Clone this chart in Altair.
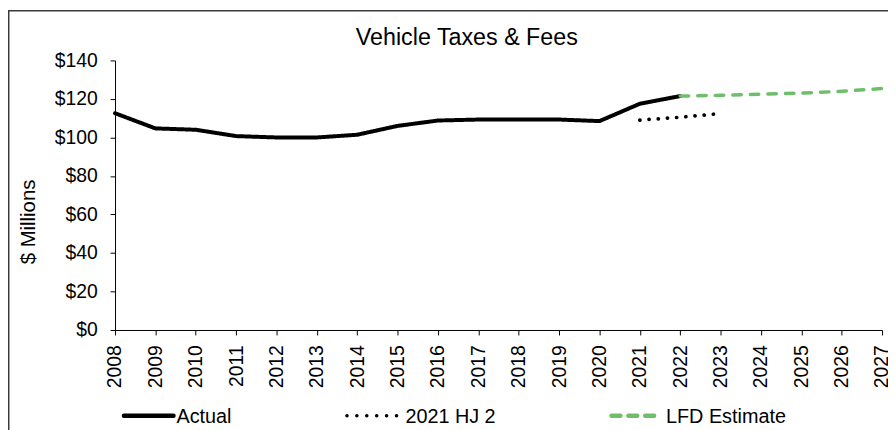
import altair as alt
import pandas as pd

# ---- data ----
years_actual = list(range(2008, 2023))
actual = [112.6, 104.7, 104.0, 100.7, 100.0, 100.0, 101.4, 106.0, 108.8,
          109.3, 109.3, 109.3, 108.5, 117.5, 121.5]
years_hj2 = [2021, 2022, 2023]
hj2 = [109.0, 110.5, 112.4]
years_lfd = [2022, 2023, 2024, 2025, 2026, 2027]
lfd = [121.5, 121.9, 122.5, 123.0, 124.0, 125.4]

series_names = ["Actual", "2021 HJ 2", "LFD Estimate"]
x_ticks = list(range(2008, 2028))
y_ticks = [0, 20, 40, 60, 80, 100, 120, 140]
chart_title = "Vehicle Taxes & Fees"

df = pd.concat([
    pd.DataFrame({"year": years_actual, "value": actual, "series": "Actual"}),
    pd.DataFrame({"year": years_hj2, "value": hj2, "series": "2021 HJ 2"}),
    pd.DataFrame({"year": years_lfd, "value": lfd, "series": "LFD Estimate"}),
], ignore_index=True)

FONT = "Liberation Sans"
GREEN = "#6FBE6B"

lines = alt.Chart(df).mark_line(strokeCap="round", strokeJoin="round").encode(
    x=alt.X("year:Q",
            scale=alt.Scale(domain=[2008, 2027], nice=False, zero=False),
            axis=alt.Axis(values=x_ticks, format="d", labelAngle=270,
                          labelFontSize=19.5, labelColor="black", labelPadding=10,
                          tickSize=5, tickColor="black", domainColor="black",
                          labelFlush=False, labelOverlap=False, grid=False, title=None)),
    y=alt.Y("value:Q",
            scale=alt.Scale(domain=[0, 140], nice=False, zero=True),
            axis=alt.Axis(values=y_ticks, format="$.0f", labelFontSize=19.5,
                          labelColor="black", labelPadding=13, tickSize=5,
                          tickColor="black", domainColor="black", grid=False,
                          title="$ Millions", titleFontSize=20.5,
                          titleFontWeight="normal", titleColor="black",
                          titleAngle=270, titleX=-81, titleY=162.5,
                          titleAlign="center", titleBaseline="alphabetic")),
    color=alt.Color("series:N", scale=alt.Scale(domain=series_names,
                    range=["black", "black", GREEN]), legend=None),
    strokeDash=alt.StrokeDash("series:N", scale=alt.Scale(domain=series_names,
                    range=[[1, 0], [0.1, 9.2], [8.5, 9.2]]), legend=None),
    strokeWidth=alt.StrokeWidth("series:N", scale=alt.Scale(domain=series_names,
                    range=[4, 3.5, 4]), legend=None),
)

# ---- chart title (as a text mark, placed over the chart area) ----
title = alt.Chart(pd.DataFrame({"label": [chart_title]})).mark_text(
    align="center", baseline="alphabetic", fontSize=23.5, font=FONT,
    color="black").encode(text="label:N", x=alt.value(355), y=alt.value(-15.5))

# ---- manual legend (bottom row) ----
LEG_Y = 358.5


def legend_entry(label, x1, x2, tx, color, dash, width):
    src = alt.Chart(pd.DataFrame({"label": [label]}))
    sym = src.mark_rule(color=color, strokeDash=dash, strokeWidth=width,
                        strokeCap="round").encode(
        x=alt.value(x1), x2=alt.value(x2), y=alt.value(LEG_Y))
    txt = src.mark_text(align="left", baseline="middle", fontSize=20,
                        font=FONT, color="black").encode(
        text="label:N", x=alt.value(tx), y=alt.value(LEG_Y + 1))
    return sym + txt


leg1 = legend_entry(series_names[0], 9, 59, 62, "black", [1, 0], 4.5)
leg2 = legend_entry(series_names[1], 234, 285, 293, "black", [0.1, 9.9], 3.5)
leg3 = legend_entry(series_names[2], 501, 544, 556, GREEN, [9, 8], 4.5)

# ---- outer frame of the chart area ----
frame = alt.Chart(pd.DataFrame({"label": ["frame"]})).mark_rect(
    fillOpacity=0, stroke="#3a3a3a", strokeWidth=1.5).encode(
    x=alt.value(-107.25), x2=alt.value(900), y=alt.value(-50.25), y2=alt.value(500))

chart = alt.layer(frame, title, lines, leg1, leg2, leg3).properties(
    width=774, height=272,
    autosize=alt.AutoSizeParams(type="none"),
    padding={"left": 108, "top": 51, "right": 6, "bottom": 99},
).configure(font=FONT).configure_view(stroke=None).configure_axis(
    labelFont=FONT, titleFont=FONT)

chart.save("out.html", embed_options={"renderer": "svg", "actions": False})
